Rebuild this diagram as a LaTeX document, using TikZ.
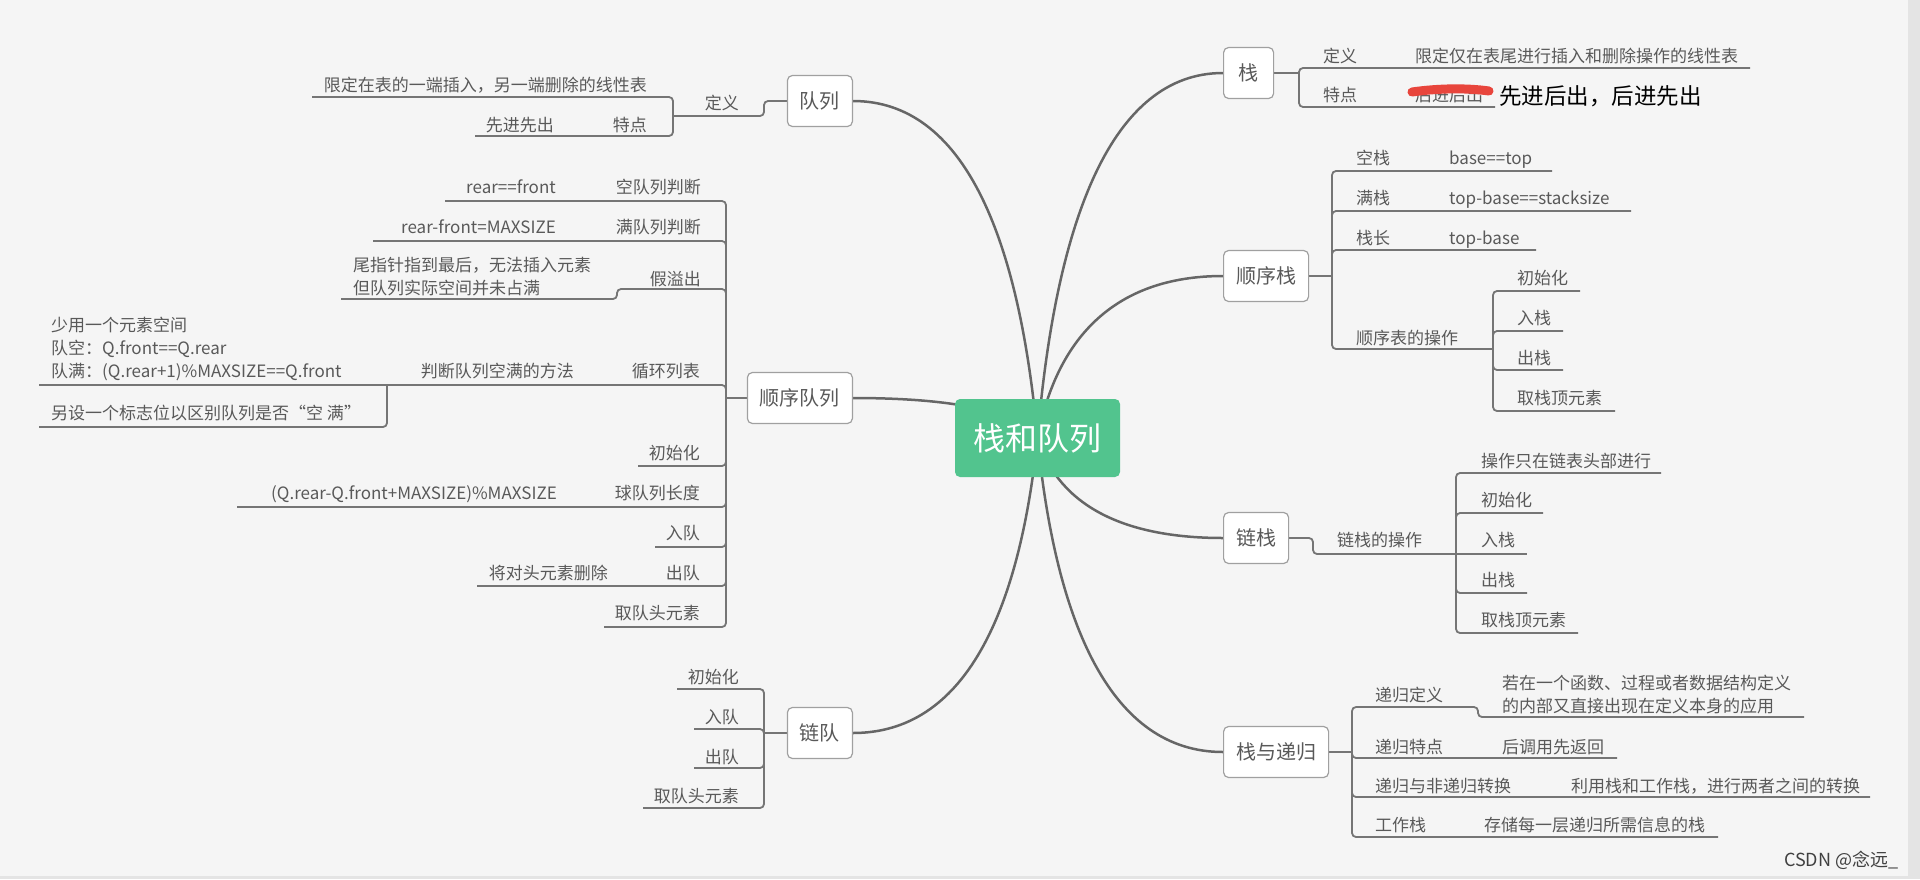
\documentclass[tikz,border=0pt]{standalone}
\usepackage{fontspec}
\setmainfont{Noto Sans CJK SC}
\usetikzlibrary{backgrounds}
\definecolor{bgc}{HTML}{F5F5F5}
\definecolor{stripc}{HTML}{E4E4E4}
\definecolor{txt}{HTML}{595959}
\definecolor{lnc}{HTML}{757575}
\definecolor{crv}{HTML}{666666}
\definecolor{boxb}{HTML}{A0A0A0}
\definecolor{maingreen}{HTML}{52C48E}
\definecolor{scrib}{HTML}{E8453C}
\tikzset{
  lbl/.style={inner sep=0pt, text=txt, font=\fontsize{17}{23}\selectfont},
  lw/.style={lbl, anchor=base west},
  le/.style={lbl, anchor=base east},
  multi/.style={lbl, align=left, anchor=west},
  topic/.style={draw=boxb, line width=1.2pt, fill=white, rounded corners=5pt,
    inner xsep=12.5pt, minimum width=50pt, minimum height=51pt, text=txt,
    font=\fontsize{20}{24}\selectfont},
  central/.style={fill=maingreen, rounded corners=5pt, minimum width=165pt,
    minimum height=78pt, text=white, font=\fontsize{32}{38}\selectfont},
  conn/.style={draw=crv, line width=2.5pt},
  br/.style={draw=lnc, line width=1.8pt, rounded corners=4pt},
}
\begin{document}
\begin{tikzpicture}[x=1pt,y=-1pt]
\useasboundingbox (0,0) rectangle (1920,879);
% ---------- topics
\node[central] (root) at (1037.5,438) {栈和队列};
\node[topic, anchor=west] (zhan) at (1223,73) {栈};
\node[topic, anchor=west] (sxz) at (1223,276) {顺序栈};
\node[topic, anchor=west] (lz) at (1223,538) {链栈};
\node[topic, anchor=west] (zdg) at (1223,752) {栈与递归};
\node[topic, anchor=east] (dl) at (853,101) {队列};
\node[topic, anchor=east] (sxdl) at (853,398) {顺序队列};
\node[topic, anchor=east] (ld) at (853,733) {链队};
% ---------- 栈
\node[lw] (zdy) at (1323,62) {定义};
\node[lw] (zdyt) at (1415,62) {限定仅在表尾进行插入和删除操作的线性表};
\node[lw] (ztd) at (1323,101) {特点};
\node[lw] (ztdt) at (1415,101) {后进后出};
\draw[scrib, line width=9pt, line cap=round] (1412,92) .. controls (1440,88) and (1468,88) .. (1489,91);
\node[lw, text=black, font=\fontsize{22.5}{26}\selectfont] (ztdn) at (1499,104) {先进后出，后进先出};
% ---------- 顺序栈
\node[lw] (s1) at (1356,164) {空栈};
\node[lw] (s1t) at (1449,164) {base==top};
\node[lw] (s2) at (1356,204) {满栈};
\node[lw] (s2t) at (1449,204) {top-base==stacksize};
\node[lw] (s3) at (1356,244) {栈长};
\node[lw] (s3t) at (1449,244) {top-base};
\node[lw] (s4) at (1356,344) {顺序表的操作};
\node[lw] (s41) at (1517,284) {初始化};
\node[lw] (s42) at (1517,324) {入栈};
\node[lw] (s43) at (1517,364) {出栈};
\node[lw] (s44) at (1517,404) {取栈顶元素};
% ---------- 链栈
\node[lw] (l0) at (1337,546) {链栈的操作};
\node[lw] (l1) at (1481,467) {操作只在链表头部进行};
\node[lw] (l2) at (1481,506) {初始化};
\node[lw] (l3) at (1481,546) {入栈};
\node[lw] (l4) at (1481,586) {出栈};
\node[lw] (l5) at (1481,626) {取栈顶元素};
% ---------- 栈与递归
\node[lw] (d1) at (1375,701) {递归定义};
\node[multi] (d1t) at (1502,695) {若在一个函数、过程或者数据结构定义\\的内部又直接出现在定义本身的应用};
\node[lw] (d2) at (1375,753) {递归特点};
\node[lw] (d2t) at (1502,753) {后调用先返回};
\node[lw] (d3) at (1375,792) {递归与非递归转换};
\node[lw] (d3t) at (1571,792) {利用栈和工作栈，进行两者之间的转换};
\node[lw] (d4) at (1375,831) {工作栈};
\node[lw] (d4t) at (1484,831) {存储每一层递归所需信息的栈};
\node[lw, text=black!75, font=\fontsize{18}{22}\selectfont] (csdn) at (1784,866) {CSDN @念远\_};
% ---------- 队列
\node[le] (qdy) at (739,109) {定义};
\node[le] (q1) at (647,91) {限定在表的一端插入，另一端删除的线性表};
\node[le] (q2) at (647,131) {特点};
\node[le] (q2t) at (554,131) {先进先出};
% ---------- 顺序队列
\node[le] (x1) at (701,193) {空队列判断};
\node[le] (x1t) at (556,193) {rear==front};
\node[le] (x2) at (701,233) {满队列判断};
\node[le] (x2t) at (556,233) {rear-front=MAXSIZE};
\node[le] (x3) at (701,285) {假溢出};
\node[multi] (x3t) at (353,277) {尾指针指到最后，无法插入元素\\但队列实际空间并未占满};
\node[le] (x4) at (700,377) {循环列表};
\node[le] (x4a) at (574,377) {判断队列空满的方法};
\node[multi] (x4b) at (51,349) {少用一个元素空间\\队空：Q.front==Q.rear\\队满：(Q.rear+1)\%MAXSIZE==Q.front};
\node[lw] (x4c) at (51,419) {另设一个标志位以区别队列是否“空 满”};
\node[le] (x5) at (700,459) {初始化};
\node[le] (x6) at (700,499) {球队列长度};
\node[le] (x6t) at (557,499) {(Q.rear-Q.front+MAXSIZE)\%MAXSIZE};
\node[le] (x7) at (700,539) {入队};
\node[le] (x8) at (700,579) {出队};
\node[le] (x8t) at (608,579) {将对头元素删除};
\node[le] (x9) at (700,619) {取队头元素};
% ---------- 链队
\node[le] (k1) at (739,683) {初始化};
\node[le] (k2) at (739,723) {入队};
\node[le] (k3) at (739,763) {出队};
\node[le] (k4) at (739,802) {取队头元素};
% ---------- junctions and line ends
\coordinate (zj) at (1299,73);
\coordinate (ze1) at (1750,68);
\coordinate (ze2) at (1495,107);
\coordinate (sj) at (1332,276);
\coordinate (se1) at (1552,171);
\coordinate (se2) at (1631,211);
\coordinate (se3) at (1536,250);
\coordinate (sj2) at (1493,349);
\coordinate (se41) at (1580,291);
\coordinate (se42) at (1563,331);
\coordinate (se43) at (1563,370);
\coordinate (se44) at (1615,411);
\coordinate (lk1) at (1313,538);
\coordinate (lk2) at (1313,554);
\coordinate (lj) at (1456,554);
\coordinate (le1) at (1661,473);
\coordinate (le2) at (1543,513);
\coordinate (le3) at (1527,554);
\coordinate (le4) at (1527,593);
\coordinate (le5) at (1578,633);
\coordinate (dj) at (1352,752);
\coordinate (de1a) at (1478,707);
\coordinate (de1b) at (1478,717);
\coordinate (de1) at (1804,717);
\coordinate (de2) at (1617,758);
\coordinate (de3) at (1870,797);
\coordinate (de4) at (1718,837);
\coordinate (qk1) at (764,101);
\coordinate (qk2) at (764,116);
\coordinate (qj) at (673,116);
\coordinate (qe1) at (312,97);
\coordinate (qe2) at (475,136);
\coordinate (xj) at (726,398);
\coordinate (xe1) at (445,201);
\coordinate (xe2) at (373,241);
\coordinate (xe3a) at (617,289);
\coordinate (xe3b) at (617,299);
\coordinate (xe3) at (341,299);
\coordinate (xj4) at (387,385);
\coordinate (xe4a) at (39,385);
\coordinate (xe4b) at (39,427);
\coordinate (xe5) at (638,466);
\coordinate (xe6) at (237,507);
\coordinate (xe7) at (655,547);
\coordinate (xe8) at (477,586);
\coordinate (xe9) at (604,627);
\coordinate (kj) at (764,733);
\coordinate (ke1) at (677,689);
\coordinate (ke2) at (694,729);
\coordinate (ke3) at (694,768);
\coordinate (ke4) at (643,808);
\begin{scope}[on background layer]
\fill[stripc] (0,0) rectangle (1920,879);
\fill[bgc] (0,0) rectangle (1908,876);
% curves from the central topic
\draw[conn] (root.center) .. controls (1019,236) and (964,101) .. (dl.east);
\draw[conn] (root.center) .. controls (1019,414) and (964,398) .. (sxdl.east);
\draw[conn] (root.center) .. controls (1019,615) and (964,733) .. (ld.east);
\draw[conn] (root.center) .. controls (1056,219) and (1112,73) .. (zhan.west);
\draw[conn] (root.center) .. controls (1056,341) and (1112,276) .. (sxz.west);
\draw[conn] (root.center) .. controls (1056,498) and (1112,538) .. (lz.west);
\draw[conn] (root.center) .. controls (1056,626) and (1112,752) .. (zdg.west);
% 栈
\draw[br] (zhan.east) -- (zj);
\draw[br] (zj) |- (ze1);
\draw[br] (zj) |- (ze2);
% 顺序栈
\draw[br] (sxz.east) -- (sj);
\draw[br] (sj) |- (se1);
\draw[br] (sj) |- (se2);
\draw[br] (sj) |- (se3);
\draw[br] (sj) |- (sj2);
\draw[br] (sj2) |- (se41);
\draw[br] (sj2) |- (se42);
\draw[br] (sj2) |- (se43);
\draw[br] (sj2) |- (se44);
% 链栈
\draw[br] (lz.east) -- (lk1) -- (lk2) -- (lj);
\draw[br] (lj) |- (le1);
\draw[br] (lj) |- (le2);
\draw[br] (lj) -- (le3);
\draw[br] (lj) |- (le4);
\draw[br] (lj) |- (le5);
% 栈与递归
\draw[br] (zdg.east) -- (dj);
\draw[br] (dj) |- (de1a) -- (de1b) -- (de1);
\draw[br] (dj) |- (de2);
\draw[br] (dj) |- (de3);
\draw[br] (dj) |- (de4);
% 队列
\draw[br] (dl.west) -- (qk1) -- (qk2) -- (qj);
\draw[br] (qj) |- (qe1);
\draw[br] (qj) |- (qe2);
% 顺序队列
\draw[br] (sxdl.west) -- (xj);
\draw[br] (xj) |- (xe1);
\draw[br] (xj) |- (xe2);
\draw[br] (xj) |- (xe3a) -- (xe3b) -- (xe3);
\draw[br] (xj) |- (xj4) -- (xe4a);
\draw[br] (xj4) |- (xe4b);
\draw[br] (xj) |- (xe5);
\draw[br] (xj) |- (xe6);
\draw[br] (xj) |- (xe7);
\draw[br] (xj) |- (xe8);
\draw[br] (xj) |- (xe9);
% 链队
\draw[br] (ld.west) -- (kj);
\draw[br] (kj) |- (ke1);
\draw[br] (kj) |- (ke2);
\draw[br] (kj) |- (ke3);
\draw[br] (kj) |- (ke4);
\end{scope}
\end{tikzpicture}
\end{document}
